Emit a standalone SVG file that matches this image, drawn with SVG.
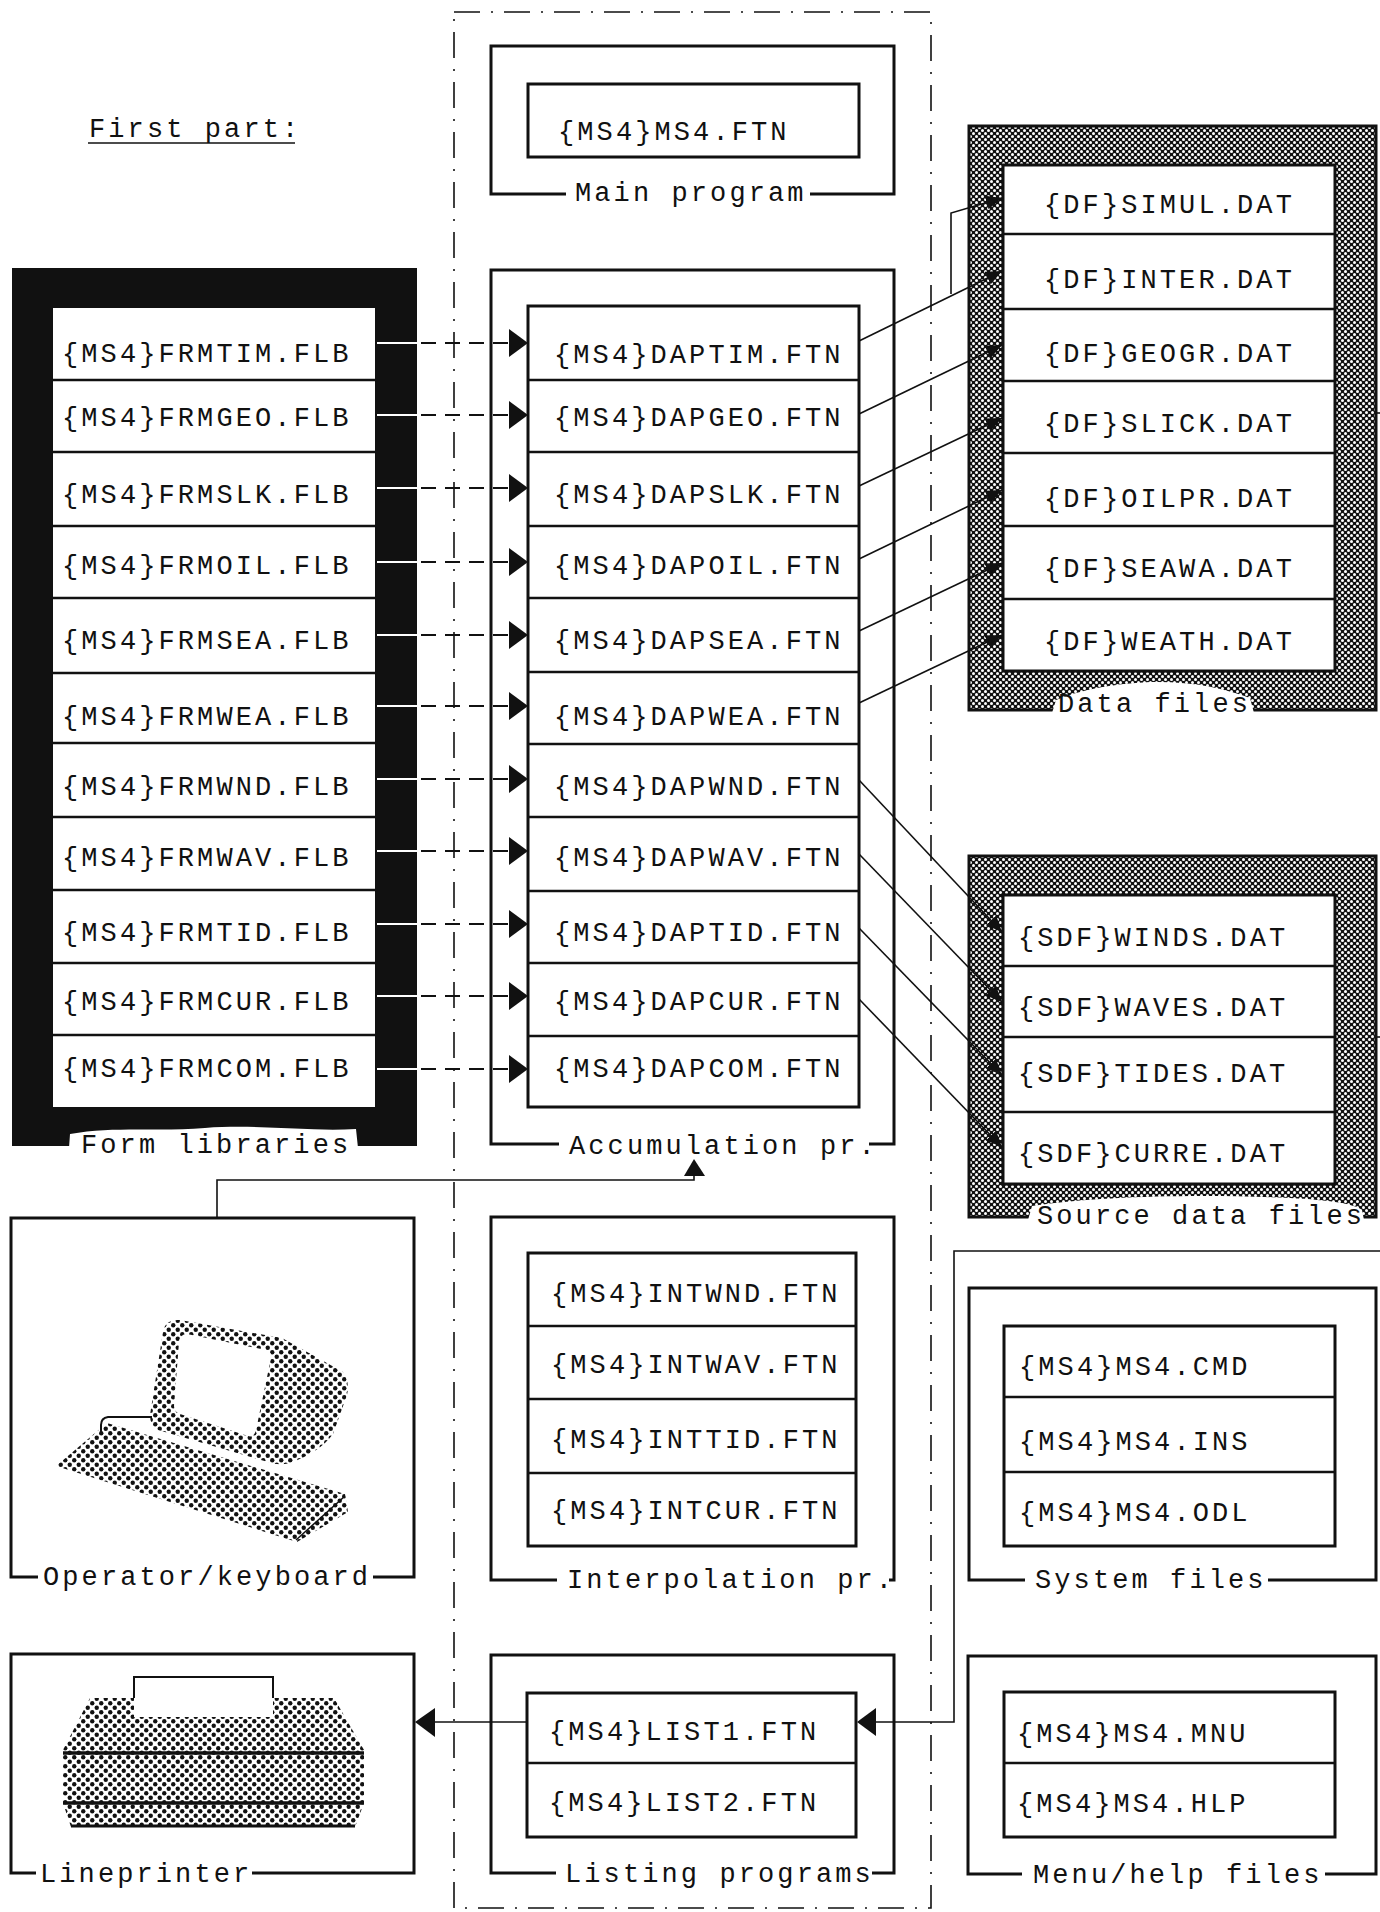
<svg xmlns="http://www.w3.org/2000/svg" width="1380" height="1912" viewBox="0 0 1380 1912">
<defs>
<style>
 .t{font-family:"Liberation Mono","DejaVu Sans Mono",monospace;font-size:27px;letter-spacing:3.1px;fill:#111}
 .box{fill:#fff;stroke:#111;stroke-width:3}
 .div{stroke:#111;stroke-width:2.5}
 .brk{fill:none;stroke:#111;stroke-width:3}
 .frame{fill:none;stroke:#111;stroke-width:1.6;stroke-dasharray:26 11 2 11}
 .con{fill:none;stroke:#111;stroke-width:1.6}
 .dash{fill:none;stroke:#111;stroke-width:1.8;stroke-dasharray:15 9}
 .gap{stroke:#fff;stroke-width:2}
 .head{fill:#111}
 .art{fill:url(#dots)}
</style>
<!-- dark screen used for the data file frames -->
<pattern id="screen" width="6" height="6" patternUnits="userSpaceOnUse">
 <rect width="6" height="6" fill="#111"/>
 <circle cx="1.5" cy="1.5" r="1.5" fill="#fff"/>
 <circle cx="4.5" cy="4.5" r="1.5" fill="#fff"/>
</pattern>
<!-- dot screen used for the device drawings -->
<pattern id="dots" width="9" height="9" patternUnits="userSpaceOnUse">
 <circle cx="2.25" cy="2.25" r="2.2" fill="#111"/>
 <circle cx="6.75" cy="6.75" r="2.2" fill="#111"/>
</pattern>
<marker id="tri" viewBox="0 0 16 14" refX="16" refY="7" markerWidth="16" markerHeight="14" markerUnits="userSpaceOnUse" orient="auto">
 <path d="M0,0 L16,7 L0,14 Z" fill="#111"/>
</marker>
</defs>

<rect width="1380" height="1912" fill="#fff"/>

<!-- heading -->
<g id="heading">
 <text class="t" x="89" y="137">First part:</text>
 <line x1="88" y1="143" x2="295" y2="143" stroke="#111" stroke-width="1.6"/>
</g>

<!-- dash-dot boundary of the program column -->
<rect id="program-area" class="frame" x="454" y="12" width="477" height="1896"/>

<!-- Form libraries -->
<g id="form-libraries">
 <rect x="12" y="268" width="405" height="878" fill="#111"/>
 <rect x="53" y="308" width="322" height="799" fill="#fff"/>
 <g class="div">
  <line x1="53" y1="380" x2="375" y2="380"/>
  <line x1="53" y1="452" x2="375" y2="452"/>
  <line x1="53" y1="526" x2="375" y2="526"/>
  <line x1="53" y1="598" x2="375" y2="598"/>
  <line x1="53" y1="673" x2="375" y2="673"/>
  <line x1="53" y1="743" x2="375" y2="743"/>
  <line x1="53" y1="817" x2="375" y2="817"/>
  <line x1="53" y1="890" x2="375" y2="890"/>
  <line x1="53" y1="963" x2="375" y2="963"/>
  <line x1="53" y1="1035" x2="375" y2="1035"/>
 </g>
 <path d="M69,1148 L70,1134 C115,1126 160,1132 205,1128 C260,1124 310,1132 356,1129 L358,1148 Z" fill="#fff"/>
 <text class="t" x="62" y="362">{MS4}FRMTIM.FLB</text>
 <text class="t" x="62" y="426">{MS4}FRMGEO.FLB</text>
 <text class="t" x="62" y="503">{MS4}FRMSLK.FLB</text>
 <text class="t" x="62" y="574">{MS4}FRMOIL.FLB</text>
 <text class="t" x="62" y="649">{MS4}FRMSEA.FLB</text>
 <text class="t" x="62" y="725">{MS4}FRMWEA.FLB</text>
 <text class="t" x="62" y="795">{MS4}FRMWND.FLB</text>
 <text class="t" x="62" y="866">{MS4}FRMWAV.FLB</text>
 <text class="t" x="62" y="941">{MS4}FRMTID.FLB</text>
 <text class="t" x="62" y="1010">{MS4}FRMCUR.FLB</text>
 <text class="t" x="62" y="1077">{MS4}FRMCOM.FLB</text>
 <text class="t" x="81" y="1153">Form libraries</text>
</g>

<!-- Main program -->
<g id="main-program">
 <path class="brk" d="M566,194 H491 V46 H894 V194 H810"/>
 <rect class="box" x="528" y="84" width="331" height="73"/>
 <text class="t" x="558" y="140">{MS4}MS4.FTN</text>
 <text class="t" x="575" y="201">Main program</text>
</g>

<!-- Accumulation programs -->
<g id="accumulation">
 <path class="brk" d="M559,1144 H491 V270 H894 V1144 H869"/>
 <rect class="box" x="528" y="306" width="331" height="801"/>
 <g class="div">
  <line x1="528" y1="380" x2="859" y2="380"/>
  <line x1="528" y1="452" x2="859" y2="452"/>
  <line x1="528" y1="526" x2="859" y2="526"/>
  <line x1="528" y1="598" x2="859" y2="598"/>
  <line x1="528" y1="672" x2="859" y2="672"/>
  <line x1="528" y1="744" x2="859" y2="744"/>
  <line x1="528" y1="817" x2="859" y2="817"/>
  <line x1="528" y1="891" x2="859" y2="891"/>
  <line x1="528" y1="963" x2="859" y2="963"/>
  <line x1="528" y1="1036" x2="859" y2="1036"/>
 </g>
 <text class="t" x="554" y="363">{MS4}DAPTIM.FTN</text>
 <text class="t" x="554" y="426">{MS4}DAPGEO.FTN</text>
 <text class="t" x="554" y="503">{MS4}DAPSLK.FTN</text>
 <text class="t" x="554" y="574">{MS4}DAPOIL.FTN</text>
 <text class="t" x="554" y="649">{MS4}DAPSEA.FTN</text>
 <text class="t" x="554" y="725">{MS4}DAPWEA.FTN</text>
 <text class="t" x="554" y="795">{MS4}DAPWND.FTN</text>
 <text class="t" x="554" y="866">{MS4}DAPWAV.FTN</text>
 <text class="t" x="554" y="941">{MS4}DAPTID.FTN</text>
 <text class="t" x="554" y="1010">{MS4}DAPCUR.FTN</text>
 <text class="t" x="554" y="1077">{MS4}DAPCOM.FTN</text>
 <text class="t" x="569" y="1154">Accumulation pr.</text>
</g>

<!-- Data files -->
<g id="data-files">
 <rect x="969" y="126" width="407" height="584" fill="url(#screen)" stroke="#111" stroke-width="3"/>
 <rect class="box" x="1003" y="165" width="332" height="506"/>
 <g class="div">
  <line x1="1003" y1="234" x2="1335" y2="234"/>
  <line x1="1003" y1="309" x2="1335" y2="309"/>
  <line x1="1003" y1="381" x2="1335" y2="381"/>
  <line x1="1003" y1="453" x2="1335" y2="453"/>
  <line x1="1003" y1="526" x2="1335" y2="526"/>
  <line x1="1003" y1="599" x2="1335" y2="599"/>
 </g>
 <path d="M1052,713 L1056,700 C1080,690 1110,684 1150,682 C1190,681 1225,688 1250,698 L1254,713 Z" fill="#fff"/>
 <text class="t" x="1044" y="213">{DF}SIMUL.DAT</text>
 <text class="t" x="1044" y="288">{DF}INTER.DAT</text>
 <text class="t" x="1044" y="362">{DF}GEOGR.DAT</text>
 <text class="t" x="1044" y="432">{DF}SLICK.DAT</text>
 <text class="t" x="1044" y="507">{DF}OILPR.DAT</text>
 <text class="t" x="1044" y="577">{DF}SEAWA.DAT</text>
 <text class="t" x="1044" y="650">{DF}WEATH.DAT</text>
 <text class="t" x="1058" y="712">Data files</text>
</g>

<!-- Source data files -->
<g id="source-data-files">
 <rect x="969" y="856" width="407" height="361" fill="url(#screen)" stroke="#111" stroke-width="3"/>
 <rect class="box" x="1003" y="895" width="332" height="289"/>
 <g class="div">
  <line x1="1003" y1="966" x2="1335" y2="966"/>
  <line x1="1003" y1="1037" x2="1335" y2="1037"/>
  <line x1="1003" y1="1112" x2="1335" y2="1112"/>
 </g>
 <path d="M1028,1220 L1032,1206 C1100,1196 1200,1194 1290,1198 C1330,1200 1355,1204 1362,1210 L1364,1220 Z" fill="#fff"/>
 <text class="t" x="1018" y="946">{SDF}WINDS.DAT</text>
 <text class="t" x="1018" y="1016">{SDF}WAVES.DAT</text>
 <text class="t" x="1018" y="1082">{SDF}TIDES.DAT</text>
 <text class="t" x="1018" y="1162">{SDF}CURRE.DAT</text>
 <text class="t" x="1037" y="1224">Source data files</text>
</g>

<!-- Operator / keyboard -->
<g id="operator">
 <path class="brk" d="M38,1577 H11 V1218 H414 V1577 H373"/>
 <path class="art" fill-rule="evenodd" d="M163,1332 Q165,1319 180,1320 L282,1338 L343,1372 Q350,1382 347,1395 L333,1434 Q320,1452 290,1463 Q278,1466 268,1462 L158,1430 Q150,1426 150,1415 Z M187,1334 Q180,1334 179,1342 L174,1406 Q174,1412 180,1414 L248,1436 Q254,1438 256,1430 L271,1358 Q272,1351 266,1350 Z"/>
 <path class="art" d="M107,1423 L345,1494 L348,1512 L297,1542 L56,1466 Z"/>
 <path d="M345,1496 L296,1540" fill="none" stroke="#111" stroke-width="1.5"/>
 <path d="M152,1417 L108,1417 Q101,1418 101,1425 L101,1432" fill="none" stroke="#111" stroke-width="2"/>
 <text class="t" x="43" y="1585">Operator/keyboard</text>
</g>

<!-- Interpolation programs -->
<g id="interpolation">
 <path class="brk" d="M557,1580 H491 V1217 H894 V1580 H889"/>
 <rect class="box" x="528" y="1253" width="328" height="293"/>
 <g class="div">
  <line x1="528" y1="1326" x2="856" y2="1326"/>
  <line x1="528" y1="1399" x2="856" y2="1399"/>
  <line x1="528" y1="1473" x2="856" y2="1473"/>
 </g>
 <text class="t" x="551" y="1302">{MS4}INTWND.FTN</text>
 <text class="t" x="551" y="1373">{MS4}INTWAV.FTN</text>
 <text class="t" x="551" y="1448">{MS4}INTTID.FTN</text>
 <text class="t" x="551" y="1519">{MS4}INTCUR.FTN</text>
 <text class="t" x="567" y="1588">Interpolation pr.</text>
</g>

<!-- System files -->
<g id="system-files">
 <path class="brk" d="M1025,1580 H969 V1288 H1376 V1580 H1268"/>
 <rect class="box" x="1004" y="1326" width="331" height="220"/>
 <g class="div">
  <line x1="1004" y1="1397" x2="1335" y2="1397"/>
  <line x1="1004" y1="1472" x2="1335" y2="1472"/>
 </g>
 <text class="t" x="1019" y="1375">{MS4}MS4.CMD</text>
 <text class="t" x="1019" y="1450">{MS4}MS4.INS</text>
 <text class="t" x="1019" y="1521">{MS4}MS4.ODL</text>
 <text class="t" x="1035" y="1588">System files</text>
</g>

<!-- Lineprinter -->
<g id="lineprinter">
 <path class="brk" d="M36,1873 H11 V1654 H414 V1873 H252"/>
 <path class="art" d="M90,1698 L334,1698 L364,1750 L364,1803 L355,1827 L71,1827 L63,1803 L63,1750 Z"/>
 <rect x="134" y="1677" width="139" height="40" fill="#fff"/>
 <path d="M134,1698 V1677 H273 V1698" fill="none" stroke="#111" stroke-width="2"/>
 <line x1="63" y1="1753" x2="364" y2="1753" stroke="#111" stroke-width="3.5"/>
 <line x1="63" y1="1803" x2="364" y2="1803" stroke="#111" stroke-width="3.5"/>
 <line x1="71" y1="1826" x2="355" y2="1826" stroke="#111" stroke-width="3"/>
 <text class="t" x="40" y="1882">Lineprinter</text>
</g>

<!-- Listing programs -->
<g id="listing">
 <path class="brk" d="M556,1873 H491 V1655 H894 V1873 H872"/>
 <rect class="box" x="527" y="1693" width="329" height="144"/>
 <line class="div" x1="527" y1="1763" x2="856" y2="1763"/>
 <text class="t" x="549" y="1740">{MS4}LIST1.FTN</text>
 <text class="t" x="549" y="1811">{MS4}LIST2.FTN</text>
 <text class="t" x="565" y="1882">Listing programs</text>
</g>

<!-- Menu/help files -->
<g id="menu-help-files">
 <path class="brk" d="M1022,1874 H968 V1656 H1376 V1874 H1325"/>
 <rect class="box" x="1004" y="1692" width="331" height="145"/>
 <line class="div" x1="1004" y1="1763" x2="1335" y2="1763"/>
 <text class="t" x="1017" y="1742">{MS4}MS4.MNU</text>
 <text class="t" x="1017" y="1812">{MS4}MS4.HLP</text>
 <text class="t" x="1033" y="1883">Menu/help files</text>
</g>

<!-- connectors -->
<g id="connectors">
 <!-- form libraries to accumulation programs -->
 <g>
  <line class="gap" x1="377" y1="343" x2="417" y2="343"/><line class="dash" x1="421" y1="343" x2="510" y2="343"/><path class="head" d="M509,329 L528,343 L509,357 Z"/>
  <line class="gap" x1="377" y1="415" x2="417" y2="415"/><line class="dash" x1="421" y1="415" x2="510" y2="415"/><path class="head" d="M509,401 L528,415 L509,429 Z"/>
  <line class="gap" x1="377" y1="488" x2="417" y2="488"/><line class="dash" x1="421" y1="488" x2="510" y2="488"/><path class="head" d="M509,474 L528,488 L509,502 Z"/>
  <line class="gap" x1="377" y1="562" x2="417" y2="562"/><line class="dash" x1="421" y1="562" x2="510" y2="562"/><path class="head" d="M509,548 L528,562 L509,576 Z"/>
  <line class="gap" x1="377" y1="635" x2="417" y2="635"/><line class="dash" x1="421" y1="635" x2="510" y2="635"/><path class="head" d="M509,621 L528,635 L509,649 Z"/>
  <line class="gap" x1="377" y1="706" x2="417" y2="706"/><line class="dash" x1="421" y1="706" x2="510" y2="706"/><path class="head" d="M509,692 L528,706 L509,720 Z"/>
  <line class="gap" x1="377" y1="779" x2="417" y2="779"/><line class="dash" x1="421" y1="779" x2="510" y2="779"/><path class="head" d="M509,765 L528,779 L509,793 Z"/>
  <line class="gap" x1="377" y1="851" x2="417" y2="851"/><line class="dash" x1="421" y1="851" x2="510" y2="851"/><path class="head" d="M509,837 L528,851 L509,865 Z"/>
  <line class="gap" x1="377" y1="924" x2="417" y2="924"/><line class="dash" x1="421" y1="924" x2="510" y2="924"/><path class="head" d="M509,910 L528,924 L509,938 Z"/>
  <line class="gap" x1="377" y1="996" x2="417" y2="996"/><line class="dash" x1="421" y1="996" x2="510" y2="996"/><path class="head" d="M509,982 L528,996 L509,1010 Z"/>
  <line class="gap" x1="377" y1="1069" x2="417" y2="1069"/><line class="dash" x1="421" y1="1069" x2="510" y2="1069"/><path class="head" d="M509,1055 L528,1069 L509,1083 Z"/>
 </g>
 <!-- accumulation programs to data files -->
 <path class="con" marker-end="url(#tri)" d="M859,341 L1002,271"/>
 <path class="con" marker-end="url(#tri)" d="M951,294 V213 L1002,198"/>
 <path class="con" marker-end="url(#tri)" d="M859,414 L1002,345"/>
 <path class="con" marker-end="url(#tri)" d="M859,486 L1002,418"/>
 <path class="con" marker-end="url(#tri)" d="M859,559 L1002,490"/>
 <path class="con" marker-end="url(#tri)" d="M859,631 L1002,563"/>
 <path class="con" marker-end="url(#tri)" d="M859,703 L1002,635"/>
 <!-- accumulation programs to source data files -->
 <path class="con" marker-end="url(#tri)" d="M859,780 L1002,932"/>
 <path class="con" marker-end="url(#tri)" d="M859,854 L1002,1002"/>
 <path class="con" marker-end="url(#tri)" d="M859,928 L1002,1075"/>
 <path class="con" marker-end="url(#tri)" d="M859,999 L1002,1147"/>
 <!-- operator to accumulation programs -->
 <path class="con" d="M217,1218 V1180 H694 V1172"/>
 <path class="head" d="M684,1176 L694,1159 L705,1176 Z"/>
 <!-- incoming line to listing programs -->
 <path class="con" d="M1380,1251 H954 V1722 H874"/>
 <path class="head" d="M876,1708 L857,1722 L876,1736 Z"/>
 <!-- listing programs to lineprinter -->
 <path class="con" d="M527,1722 H432"/>
 <path class="head" d="M435,1708 L415,1722 L435,1737 Z"/>
 <!-- stubs at the right edge -->
 <line class="con" x1="1376" y1="413" x2="1380" y2="413"/>
 <line class="con" x1="1376" y1="1037" x2="1380" y2="1037"/>
</g>
</svg>
